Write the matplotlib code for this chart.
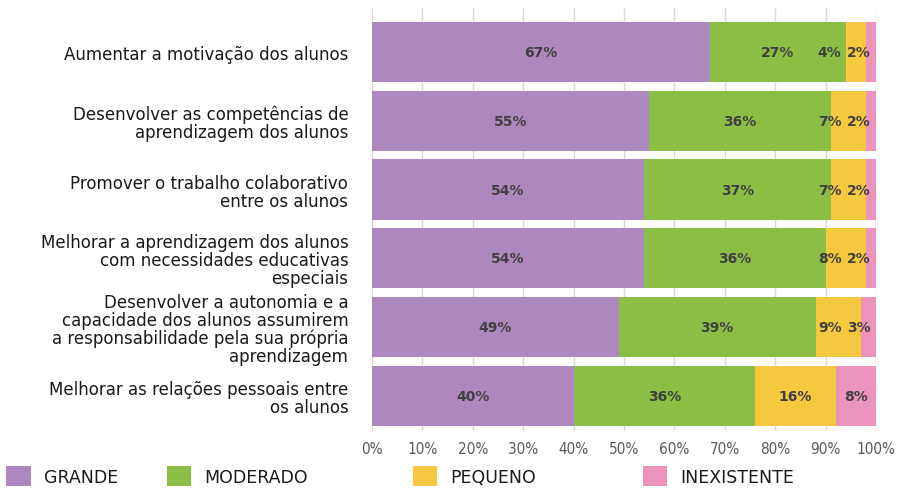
import numpy as np
import matplotlib
matplotlib.use('Agg')
import matplotlib.pyplot as plt
from matplotlib.patches import Patch

# survey data (percent)
categories = [
    'Aumentar a motivação dos alunos',
    'Desenvolver as competências de\naprendizagem dos alunos',
    'Promover o trabalho colaborativo\nentre os alunos',
    'Melhorar a aprendizagem dos alunos\ncom necessidades educativas\nespeciais',
    'Desenvolver a autonomia e a\ncapacidade dos alunos assumirem\na responsabilidade pela sua própria\naprendizagem',
    'Melhorar as relações pessoais entre\nos alunos',
]
grande = [67, 55, 54, 54, 49, 40]
moderado = [27, 36, 37, 36, 39, 36]
pequeno = [4, 7, 7, 8, 9, 16]
inexistente = [2, 2, 2, 2, 3, 8]

series_names = ['GRANDE', 'MODERADO', 'PEQUENO', 'INEXISTENTE']
colors = ['#AD88BF', '#8BBE45', '#F5C93F', '#EC93BC']

FONT = 'DejaVu Sans'
TXT = '#1a1a1a'
LBL = '#404040'


def label_positions(vals, char_w=2.2, gap=1.4, right_lim=98.8):
    # centre of each segment, pushed left so labels don't collide
    left = np.cumsum([0] + vals[:-1])
    cx = left + np.array(vals) / 2.0
    widths = np.array([char_w * len('%d%%' % v) for v in vals])
    cx[-1] = min(cx[-1], right_lim - widths[-1] / 2)
    for i in range(len(vals) - 2, -1, -1):
        cx[i] = min(cx[i], cx[i + 1] - widths[i + 1] / 2 - gap - widths[i] / 2)
    return cx


fig = plt.figure(figsize=(8.97, 4.89), dpi=100)
ax = fig.add_axes([0.4147, 0.1166, 0.5619, 0.865])

data = np.array([grande, moderado, pequeno, inexistente])
y = np.arange(len(categories))
left = np.zeros(len(categories))
for k in range(data.shape[0]):
    ax.barh(y, data[k], left=left, height=0.875, color=colors[k],
            edgecolor='none', zorder=2)
    left += data[k]

for i in range(len(categories)):
    vals = list(data[:, i])
    xs = label_positions(vals)
    for v, xv in zip(vals, xs):
        ax.text(xv, y[i], '%d%%' % v, ha='center', va='center',
                fontsize=10, fontweight='bold', color=LBL,
                family=FONT, zorder=3)

ax.set_xlim(0, 100)
ax.set_ylim(5.51, -0.64)
ax.set_xticks(np.arange(0, 101, 10))
ax.set_xticklabels(['%d%%' % t for t in range(0, 101, 10)],
                   family=FONT, fontstretch='condensed',
                   fontsize=11, color='#595959')
ax.set_yticks(y)
ax.set_yticklabels(categories, family=FONT, fontsize=12, color=TXT,
                   linespacing=1.0)
ax.tick_params(axis='both', length=0)
ax.tick_params(axis='x', pad=7)
ax.tick_params(axis='y', pad=17)
ax.grid(axis='x', color='#D9D9D9', linewidth=1, zorder=0)
for s in ax.spines.values():
    s.set_visible(False)

# legend entries laid out like the original (uneven spacing)
leg_x = [0.007, 0.186, 0.46, 0.717]
for name, c, lx in zip(series_names, colors, leg_x):
    fig.legend(handles=[Patch(facecolor=c, edgecolor='none')], labels=[name],
               loc='center left', bbox_to_anchor=(lx, 0.024), frameon=False,
               borderaxespad=0, borderpad=0,
               handlelength=1.4, handleheight=1.4, handletextpad=0.75,
               prop={'family': FONT, 'size': 12.5})
for t in fig.legends:
    for tx in t.get_texts():
        tx.set_color(TXT)

fig.savefig('out.png', dpi=100)
